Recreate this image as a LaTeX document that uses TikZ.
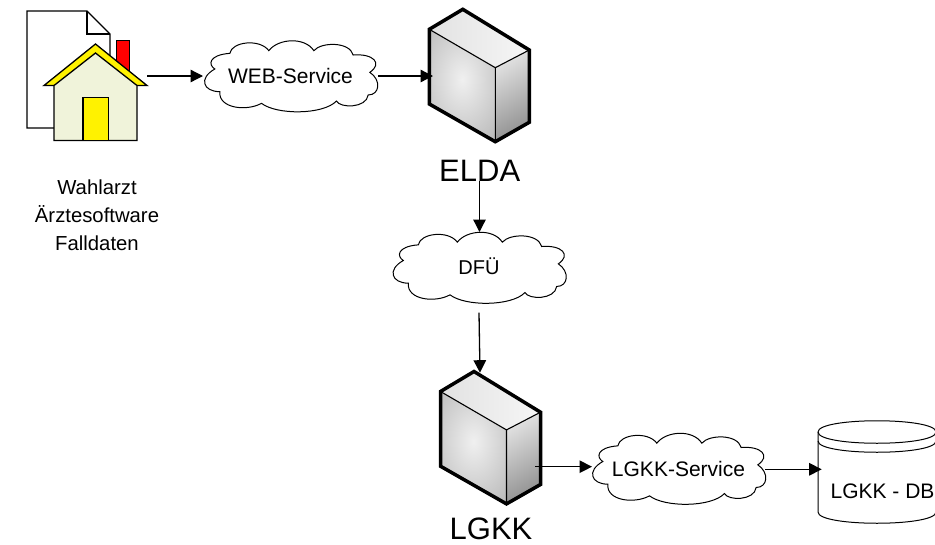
\documentclass[tikz,border=0pt]{standalone}
\usepackage{fontspec}
\setmainfont{Liberation Sans}
\usetikzlibrary{arrows.meta,shadings}
\newcommand{\cloudat}[2]{%
  \begin{scope}[shift={(#1,#2)},xscale=.3333,yscale=.3333,shift={(-302,-228)}]
  \draw[cloudline] (75,207) .. controls (55,195) and (55,165) .. (120,160)
   .. controls (125,125) and (210,115) .. (237,152)
   .. controls (265,115) and (345,110) .. (372,152)
   .. controls (395,125) and (480,125) .. (490,165)
   .. controls (550,160) and (580,190) .. (540,217)
   .. controls (575,240) and (570,285) .. (535,285)
   .. controls (530,325) and (450,325) .. (440,303)
   .. controls (400,345) and (260,345) .. (215,310)
   .. controls (170,335) and (85,325) .. (90,275)
   .. controls (40,275) and (25,235) .. (75,207) -- cycle;
  \end{scope}}
\newcommand{\serverat}[2]{%
  \begin{scope}[shift={(#1,#2)}]
  \coordinate (a) at (0,20);
  \coordinate (b) at (33.5,0);
  \coordinate (c) at (100,40.7);
  \coordinate (d) at (100,113);
  \coordinate (e) at (66,132.4);
  \coordinate (f) at (0,94.7);
  \coordinate (m) at (66,58.4);
  \begin{scope}
    \clip (a)--(m)--(e)--(f)--cycle;
    \shade[inner color=faceA,outer color=faceB] (-25,-15) rectangle (91,155);
  \end{scope}
  \begin{scope}
    \clip (a)--(b)--(c)--(m)--cycle;
    \shade[left color=topA,right color=topB] (0,0) rectangle (100,60);
  \end{scope}
  \begin{scope}
    \clip (m)--(c)--(d)--(e)--cycle;
    \shade[top color=sideA,bottom color=sideB,shading angle=30] (50,30) rectangle (115,135);
  \end{scope}
  \draw[line width=1.1pt] (a)--(m)--(e) (m)--(c);
  \draw[line width=3.5pt,line join=miter] (a)--(b)--(c)--(d)--(e)--(f)--cycle;
  \end{scope}}
\begin{document}
\begin{tikzpicture}[x=1pt,y=-1pt,
  cloudline/.style={draw=black,fill=white,line width=1pt},
  ghost/.style={inner sep=0pt,outer sep=0pt,align=center},
  sansa/.style={font=\fontsize{21}{25}\selectfont},
  big/.style={font=\fontsize{31}{34}\selectfont},
  conn/.style={line width=1.3pt,-{Triangle[length=12.5pt,width=12.5pt]},shorten >=0pt},
  house/.style={draw=black,line width=1.3pt,line join=miter}]
\definecolor{faceA}{HTML}{F0F0F0}
\definecolor{faceB}{HTML}{B4B4B4}
\definecolor{topA}{HTML}{E2E2E2}
\definecolor{topB}{HTML}{F6F6F6}
\definecolor{sideA}{HTML}{F2F2F2}
\definecolor{sideB}{HTML}{8A8A8A}
\definecolor{wall}{HTML}{F0F3DA}
\clip (0,0) rectangle (935,544);
\path[use as bounding box] (0,0) rectangle (935,544);
\fill[white] (0,0) rectangle (935,544);
% document + house
\draw[house,fill=white] (27,11) -- (87,11) -- (110,34) -- (110,128) -- (27,128) -- cycle;
\draw[house] (87,11) -- (87,34) -- (110,34);
\draw[house,fill=red] (116.5,40.5) rectangle (129.5,80);
\draw[house,fill=yellow] (44,85.5) -- (95.5,44) -- (147,85.5) -- cycle;
\draw[house,fill=wall] (54,85.5) -- (95.5,53) -- (137,85.5) -- (137,140.5) -- (54,140.5) -- cycle;
\draw[house,fill=yellow] (83,97.5) rectangle (108.5,140.5);
\node[ghost,font=\fontsize{20.3}{28}\selectfont] (wahl) at (97,215) {Wahlarzt\\Ärztesoftware\\Falldaten};
\coordinate (housee) at (147,76);
% servers
\serverat{429.3}{9.3}
\coordinate (eldaw) at (433,76);
\node[ghost,big] (elda) at (479.7,171) {ELDA};
\coordinate (eldas) at (479.5,181);
\serverat{440.5}{371.5}
\coordinate (lgkkn) at (480,372.7);
\coordinate (lgkke) at (535,466.7);
\node[ghost,big] (lgkk) at (491,528.5) {LGKK};
% clouds
\cloudat{290.5}{76}
\node[ghost,sansa,minimum width=175pt,minimum height=71pt] (web) at (290.5,76) {WEB-Service};
\cloudat{479}{267.5}
\node[ghost,font=\fontsize{20}{24}\selectfont,minimum width=173pt,minimum height=68pt] (dfu) at (479,266) {DFÜ};
\cloudat{678.5}{468.5}
\node[ghost,sansa,minimum width=173pt,minimum height=73pt] (svc) at (678.5,468.5) {LGKK-Service};
% database
\draw[line width=1pt,fill=white] (818,432) .. controls (818,417) and (936,417) .. (936,432)
  -- (936,512) .. controls (936,527) and (818,527) .. (818,512) -- cycle;
\draw[line width=1pt] (818,432) .. controls (818,447) and (936,447) .. (936,432);
\draw[line width=1pt] (818,441) .. controls (818,456) and (936,456) .. (936,441);
\node[ghost,sansa,minimum width=105pt,minimum height=40pt] (db) at (882.5,491) {LGKK - DB};
\coordinate (dbw) at (821.7,469.3);
% connectors
\draw[conn] (housee) -- (housee -| web.west);
\draw[conn] (web.east) -- (eldaw);
\draw[conn] (eldas) -- (eldas |- dfu.north);
\draw[conn] (dfu.south) ++(0,12.7) -- (lgkkn);
\draw[conn] (lgkke) -- (lgkke -| svc.west);
\draw[conn] (dbw -| svc.east) -- (dbw);
\end{tikzpicture}
\end{document}
